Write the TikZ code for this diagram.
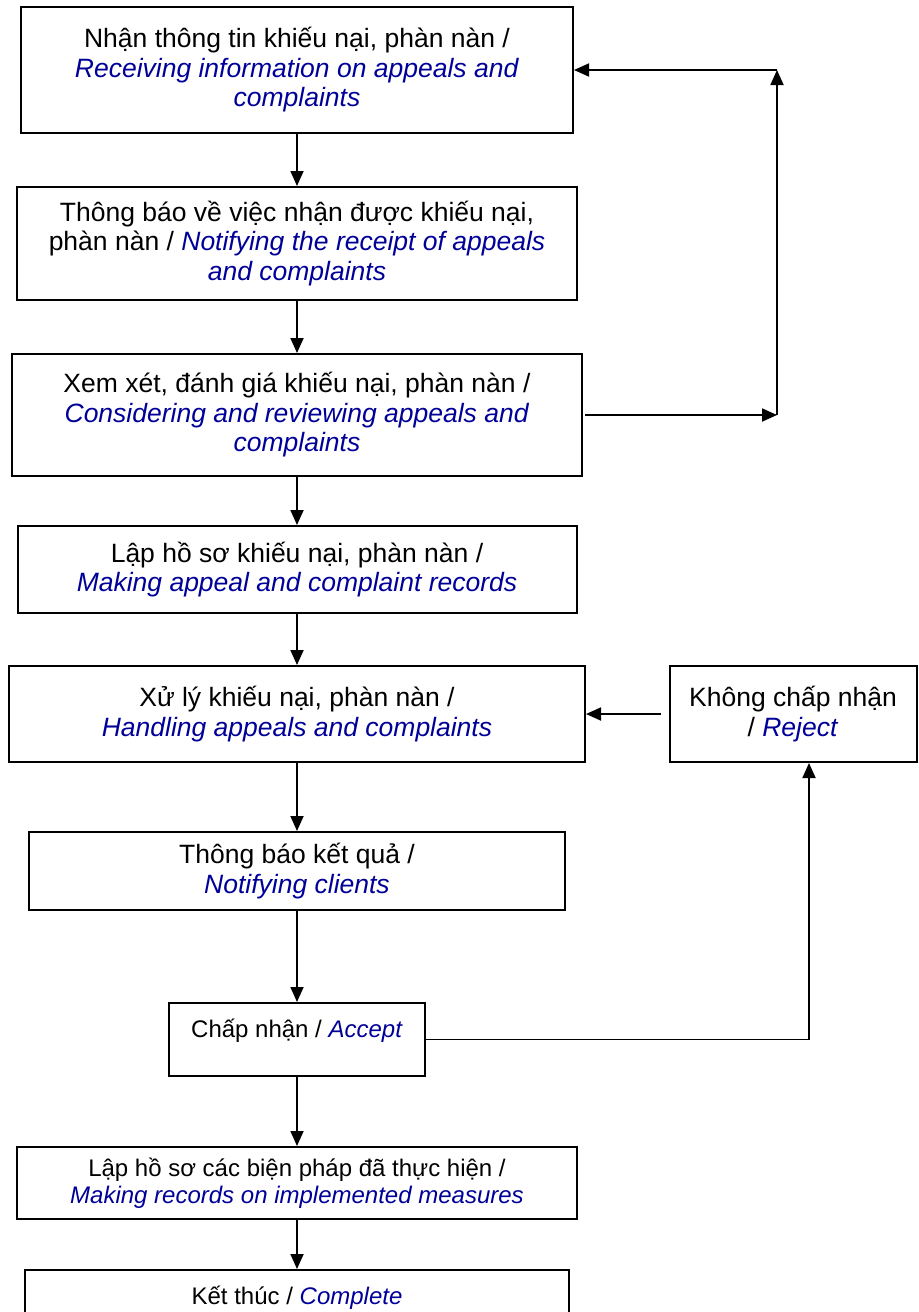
\documentclass[tikz,border=0pt]{standalone}
\usepackage{fontspec}
\setmainfont{Liberation Sans}
\usetikzlibrary{positioning,arrows.meta}
\definecolor{engblue}{RGB}{0,0,153}
\newcommand{\eng}[1]{\textcolor{engblue}{\textit{#1}}}

\begin{document}
\begin{tikzpicture}[x=0.5pt, y=-0.5pt, line width=0.9pt, >={Triangle[width=6.5pt, length=7.5pt]},
        stage/.style = {draw, line width=1pt, align=center, inner sep=2pt, font=\fontsize{13.25}{14.75}\selectfont},
        smallstage/.style = {stage, font=\fontsize{12}{13.5}\selectfont}]
        \useasboundingbox (0,0) rectangle (918,1312);

        \node (Receive) [stage, minimum width=276pt, minimum height=63pt] at (297,70) {Nhận thông tin khiếu nại, phàn nàn /\\\eng{Receiving information on appeals and}\\\eng{complaints}};
        \node (Notify) [stage, node distance = 86.75pt, below of = Receive, minimum width=280pt, minimum height=56.5pt] {Thông báo về việc nhận được khiếu nại,\\phàn nàn / \eng{Notifying the receipt of appeals}\\\eng{and complaints}};
        \node (Consider) [stage, node distance = 85.75pt, below of = Notify, minimum width=285pt, minimum height=61pt] {Xem xét, đánh giá khiếu nại, phàn nàn /\\\eng{Considering and reviewing appeals and}\\\eng{complaints}};
        \node (Records) [stage, node distance = 77.25pt, below of = Consider, minimum width=279.5pt, minimum height=43.5pt] {Lập hồ sơ khiếu nại, phàn nàn /\\\eng{Making appeal and complaint records}};
        \node (Handle) [stage, node distance = 72.25pt, below of = Records, minimum width=288pt, minimum height=48pt] {Xử lý khiếu nại, phàn nàn /\\\eng{Handling appeals and complaints}};
        \node (Reject) [stage, node distance = 248pt, right of = Handle, minimum width=123.5pt, minimum height=48pt] {Không chấp nhận\\/ \eng{Reject}};
        \node (Result) [stage, node distance = 78.5pt, below of = Handle, minimum width=268pt, minimum height=39pt] {Thông báo kết quả /\\\eng{Notifying clients}};
        \node (Accept) [smallstage, node distance = 84.25pt, below of = Result, minimum width=128pt, minimum height=36.5pt, text height=11pt, text depth=13.5pt] {Chấp nhận / \eng{Accept}};
        \node (Measures) [smallstage, node distance = 71.75pt, below of = Accept, minimum width=280pt, minimum height=36pt] {Lập hồ sơ các biện pháp đã thực hiện /\\\eng{Making records on implemented measures}};
        \node (Complete) [smallstage, node distance = 57.5pt, below of = Measures, minimum width=272pt, minimum height=28pt] {Kết thúc / \eng{Complete}};

        \coordinate (LoopTop) at ([xshift=240pt]Receive.center);
        \coordinate (LoopBottom) at (LoopTop |- Consider.east);
        \coordinate (RejectFoot) at ([xshift=8pt]Reject.south);

        \draw[->] (Receive) -- (Notify);
        \draw[->] (Notify) -- (Consider);
        \draw[->] (Consider) -- (Records);
        \draw[->] (Records) -- (Handle);
        \draw[->] (Handle) -- (Result);
        \draw[->] (Result) -- (Accept);
        \draw[->] (Accept) -- (Measures);
        \draw[->] (Measures) -- (Complete);
        \draw[->] ([xshift=1pt]Consider.east) -- (LoopBottom);
        \draw[->] (LoopBottom) -- (LoopTop);
        \draw[->] (LoopTop) -- (Receive.east);
        \draw[->] ([xshift=-4pt]Reject.west) -- (Handle.east);
        \draw[->] (Accept.east) -| (RejectFoot);
    \end{tikzpicture}
\end{document}
